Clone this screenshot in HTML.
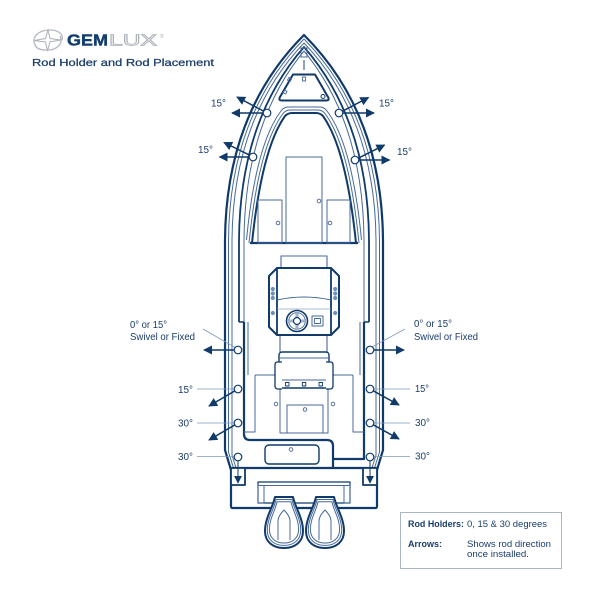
<!DOCTYPE html>
<html><head><meta charset="utf-8">
<style>
html,body{margin:0;padding:0;background:#fff;}
svg{display:block;}
text{font-family:"Liberation Sans",sans-serif;}
</style></head><body>
<svg width="600" height="600" viewBox="0 0 600 600" xmlns="http://www.w3.org/2000/svg">
<defs>
<marker id="ah" viewBox="0 0 10 10" refX="9" refY="5" markerWidth="9" markerHeight="9" markerUnits="userSpaceOnUse" orient="auto"><path d="M0,0 L10,5 L0,10 z" fill="#0f3a6a"/></marker>
<marker id="ah2" viewBox="0 0 10 10" refX="9" refY="5" markerWidth="8" markerHeight="8" markerUnits="userSpaceOnUse" orient="auto"><path d="M0,0 L10,5 L0,10 z" fill="#0f3a6a"/></marker>
</defs>
<rect width="600" height="600" fill="#fff"/>

<!-- Logo -->
<g fill="none" stroke="#b4bac3" stroke-width="1.3">
  <path d="M36,46 C30,38 38,30 50,30 C58,30 64,34 62,40"/>
  <path d="M60,36 C64,44 56,51 45,50 C40,50 36,48 35,45"/>
</g>
<path d="M48,30 L50,38.5 L61,40 L50,41.8 L47.5,51 L45.5,42 L34,40.5 L45.5,38.5 Z" fill="#fff" stroke="#aab1ba" stroke-width="1"/>
<text x="67" y="45.5" font-size="15.5" font-weight="bold" fill="#123d6e" stroke="#123d6e" stroke-width="0.4" textLength="41" lengthAdjust="spacingAndGlyphs">GEM</text>
<text x="109" y="45.5" font-size="15.5" fill="#fff" stroke="#a9b0b9" stroke-width="0.8" textLength="48" lengthAdjust="spacingAndGlyphs">LUX</text>
<text x="160" y="38" font-size="5" fill="#a9b0b9">®</text>
<text x="32" y="66" font-size="10" fill="#1b3d6b" stroke="#1b3d6b" stroke-width="0.25" textLength="182" lengthAdjust="spacingAndGlyphs">Rod Holder and Rod Placement</text>

<!-- Hull lines -->
<g fill="none" stroke-linejoin="round">
  <path d="M231,470 L225,450 L225,240 C226,120 280,59 304,35 C328,59 382,120 383,240 L383,450 L377,470" stroke="#0f3a6a" stroke-width="2.2"/>
  <path d="M233.5,468 L228.5,452 L228.5,240 C229.5,122.3 281.1,62.5 304,39 C326.9,62.5 378.5,122.3 379.5,240 L379.5,452 L374.5,468" stroke="#47699a" stroke-width="1"/>
  <path d="M236,468 L232,455 L232,240 C232.9,124.7 282.1,66.1 304,43 C325.9,66.1 375.1,124.7 376,240 L376,455 L372,468" stroke="#47699a" stroke-width="1"/>
  <path d="M239,322 L239,240 C239.8,127 284.3,69.6 304,47 C323.7,69.6 368.2,127 369,240 L369,322" stroke="#0f3a6a" stroke-width="1.8"/>
  <path d="M244,322 L244,240 C244.8,129.4 285.8,73.1 304,51 C322.2,73.1 363.2,129.4 364,240 L364,322" stroke="#47699a" stroke-width="1"/>
  <path d="M239,322 L244,322 M364,322 L369,322" stroke="#0f3a6a" stroke-width="1.5"/>

  <!-- inner forward deck arch -->
  <path d="M246.5,240 C252,183 262,136 281,111 Q284,107 288,107 L320,107 Q324,107 327,111 C346,136 356,183 361.5,240" stroke="#47699a" stroke-width="1"/>
  <path d="M249,243 C255,184 265,138 283,113.5 Q286,110 290,110 L318,110 Q322,110 325,113.5 C343,138 353,184 359,243" stroke="#47699a" stroke-width="1"/>
  <path d="M252,243 C258,185 268,140 285,116 Q288,113 292,113 L316,113 Q320,113 323,116 C340,140 350,185 356,243" stroke="#0f3a6a" stroke-width="2"/>
  <path d="M250,243 L358,243" stroke="#0f3a6a" stroke-width="2.2"/>

  <!-- anchor locker & hatch -->
  <rect x="301" y="48" width="6" height="9" stroke="#47699a" stroke-width="1"/>
  <path d="M304,60 L304,70" stroke="#47699a" stroke-width="1.2"/>
  <path d="M293,74.5 L315,74.5 L328,97 Q330,100.5 326,100.5 L282,100.5 Q278,100.5 280,97 Z" stroke="#0f3a6a" stroke-width="2"/>
  <rect x="302.5" y="77" width="3" height="4" stroke="#47699a" stroke-width="0.9"/>
  <rect x="288" y="78" width="3" height="3" stroke="#47699a" stroke-width="0.9" transform="rotate(30 289.5 79.5)"/>
  <rect x="283.5" y="90.5" width="3" height="3" stroke="#47699a" stroke-width="0.9" transform="rotate(30 285 92)"/>
  <circle cx="323" cy="96.5" r="2" stroke="#0f3a6a" stroke-width="1"/>

  <!-- forward compartments -->
  <rect x="286" y="157" width="36" height="86" stroke="#47699a" stroke-width="1"/>
  <rect x="258" y="200" width="24" height="43" stroke="#47699a" stroke-width="1"/>
  <rect x="327" y="200" width="23" height="43" stroke="#47699a" stroke-width="1"/>
  <circle cx="319" cy="201" r="1.8" stroke="#47699a" stroke-width="0.9"/>
  <circle cx="278" cy="223" r="1.8" stroke="#47699a" stroke-width="0.9"/>
  <circle cx="330" cy="223" r="1.8" stroke="#47699a" stroke-width="0.9"/>

  <!-- cockpit walls -->
  <path d="M244,322 L244,434 Q244,440 250,440 L327,440 Q333,440 333,446 L333,468" stroke="#0f3a6a" stroke-width="2.2"/>
  <path d="M364,322 L364,459 L333,459" stroke="#0f3a6a" stroke-width="2.2"/>
  <path d="M248,322 L248,375 M360,322 L360,375" stroke="#47699a" stroke-width="1"/>

  <!-- aft cockpit -->
  <path d="M255,375 L353,375" stroke="#47699a" stroke-width="1"/>
  <path d="M244,432 L255,432 L255,375 M364,432 L353,432 L353,375" stroke="#47699a" stroke-width="1"/>
  <path d="M280,388 L280,433 L328,433 L328,388" stroke="#47699a" stroke-width="1"/>
  <rect x="287" y="405" width="36" height="28" stroke="#47699a" stroke-width="1"/>
  <circle cx="305" cy="409.5" r="1.8" stroke="#47699a" stroke-width="0.9"/>
  <circle cx="276" cy="404" r="1.8" stroke="#47699a" stroke-width="0.9"/>
  <circle cx="333" cy="404" r="1.8" stroke="#47699a" stroke-width="0.9"/>
  <rect x="265" y="445" width="54" height="19" rx="4" stroke="#0f3a6a" stroke-width="1.4"/>
  <circle cx="291" cy="449.5" r="1.8" stroke="#47699a" stroke-width="0.9"/>
</g>

<!-- Console -->
<g stroke-linejoin="round">
  <rect x="281" y="256" width="46" height="13" fill="#fff" stroke="#47699a" stroke-width="1.1"/>
  <path d="M280,335 L280,352 M327,335 L327,352" stroke="#47699a" stroke-width="1.1" fill="none"/>
  <path d="M277,268 L331,268 L339,276 L339,327 L331,335 L277,335 L269,327 L269,276 Z" fill="#fff" stroke="#0f3a6a" stroke-width="2"/>
  <path d="M277,268 L277,335 M331,268 L331,335" stroke="#0f3a6a" stroke-width="1.8" fill="none"/>
  <path d="M277,300 Q304,294 331,300" stroke="#47699a" stroke-width="1.1" fill="none"/>
  <path d="M277,309 L331,309" stroke="#8ea6c6" stroke-width="0.8" fill="none"/>
  <g fill="#6f8fbb">
    <circle cx="272.8" cy="289" r="2.1"/><circle cx="272.8" cy="293.5" r="2.1"/><circle cx="272.8" cy="298" r="2.1"/><circle cx="272.8" cy="313" r="2.1"/>
    <circle cx="335.2" cy="289" r="2.1"/><circle cx="335.2" cy="293.5" r="2.1"/><circle cx="335.2" cy="298" r="2.1"/><circle cx="335.2" cy="313" r="2.1"/>
  </g>
  <circle cx="297" cy="321" r="10.5" fill="#fff" stroke="#0f3a6a" stroke-width="1.6"/>
  <circle cx="297" cy="321" r="8.3" fill="none" stroke="#47699a" stroke-width="0.9"/>
  <path d="M297,312.7 L297,329.3 M288.7,321 L305.3,321" stroke="#47699a" stroke-width="2.6"/>
  <path d="M297,312.7 L297,329.3 M288.7,321 L305.3,321" stroke="#fff" stroke-width="1"/>
  <circle cx="297" cy="321" r="3.5" fill="#fff" stroke="#0f3a6a" stroke-width="1.2"/>
  <rect x="312" y="316" width="11" height="10" fill="#fff" stroke="#47699a" stroke-width="1"/>
  <rect x="314.5" y="318.5" width="6" height="5" fill="none" stroke="#47699a" stroke-width="0.9"/>

  <!-- seat -->
  <rect x="279" y="352" width="50" height="36" rx="3" fill="#fff" stroke="#0f3a6a" stroke-width="1.4"/>
  <path d="M279,358 L329,358 M281,380 L327,380" stroke="#47699a" stroke-width="1" fill="none"/>
  <path d="M282,362 L277.5,362 Q275,362 275,365 L275,386 Q275,389 278,389 L282,389" fill="#fff" stroke="#0f3a6a" stroke-width="1.3"/>
  <path d="M326,362 L330.5,362 Q333,362 333,365 L333,386 Q333,389 330,389 L326,389" fill="#fff" stroke="#0f3a6a" stroke-width="1.3"/>
  <g fill="none" stroke="#0f3a6a" stroke-width="0.9">
    <rect x="285.5" y="382.5" width="3.5" height="3.5"/><rect x="302.3" y="382.5" width="3.5" height="3.5"/><rect x="319" y="382.5" width="3.5" height="3.5"/>
  </g>
</g>

<!-- Transom / stern -->
<g stroke-linejoin="round">
  <rect x="231" y="468" width="146" height="40" rx="1.5" fill="#fff" stroke="#0f3a6a" stroke-width="2.2"/>
  <rect x="231" y="468" width="14" height="17" fill="#fff" stroke="#0f3a6a" stroke-width="1.8"/>
  <rect x="363" y="468" width="14" height="17" fill="#fff" stroke="#0f3a6a" stroke-width="1.8"/>
  <rect x="258" y="482" width="92" height="21" fill="#fff" stroke="#0f3a6a" stroke-width="1.2"/>
  <path d="M258,485.5 L350,485.5" stroke="#47699a" stroke-width="1"/>
  <rect x="258" y="485.5" width="6" height="17.5" fill="none" stroke="#47699a" stroke-width="1"/>
  <rect x="344" y="485.5" width="6" height="17.5" fill="none" stroke="#47699a" stroke-width="1"/>
</g>

<!-- Engines -->
<g stroke-linejoin="round">
  <path d="M275,497 L293,497 C295,507 303,518 303,531 C303,542 295,548 284,548 C273,548 265,542 265,531 C265,518 273,507 275,497 Z" fill="#fff" stroke="#0f3a6a" stroke-width="2"/>
  <path d="M275,497 L293,497 C295,507 303,518 303,531 C303,542 295,548 284,548 C273,548 265,542 265,531 C265,518 273,507 275,497 Z" fill="none" stroke="#47699a" stroke-width="1" vector-effect="non-scaling-stroke" transform="translate(284,522) scale(0.88,0.9) translate(-284,-522)"/>
  <path d="M275,497 L293,497 C295,507 303,518 303,531 C303,542 295,548 284,548 C273,548 265,542 265,531 C265,518 273,507 275,497 Z" fill="none" stroke="#47699a" stroke-width="1" vector-effect="non-scaling-stroke" transform="translate(284,522) scale(0.77,0.81) translate(-284,-522)"/>
  <path d="M278,540 L278,521 Q278,516 284,510 Q290,516 290,521 L290,540" fill="none" stroke="#47699a" stroke-width="1"/>

  <path d="M316,497 L334,497 C336,507 344,518 344,531 C344,542 336,548 325,548 C314,548 306,542 306,531 C306,518 314,507 316,497 Z" fill="#fff" stroke="#0f3a6a" stroke-width="2"/>
  <path d="M316,497 L334,497 C336,507 344,518 344,531 C344,542 336,548 325,548 C314,548 306,542 306,531 C306,518 314,507 316,497 Z" fill="none" stroke="#47699a" stroke-width="1" vector-effect="non-scaling-stroke" transform="translate(325,522) scale(0.88,0.9) translate(-325,-522)"/>
  <path d="M316,497 L334,497 C336,507 344,518 344,531 C344,542 336,548 325,548 C314,548 306,542 306,531 C306,518 314,507 316,497 Z" fill="none" stroke="#47699a" stroke-width="1" vector-effect="non-scaling-stroke" transform="translate(325,522) scale(0.77,0.81) translate(-325,-522)"/>
  <path d="M319,540 L319,521 Q319,516 325,510 Q331,516 331,521 L331,540" fill="none" stroke="#47699a" stroke-width="1"/>
</g>

<!-- Leader lines -->
<g stroke="#7f9ac0" stroke-width="0.8" fill="none">
  <path d="M203,329 L236,348"/>
  <path d="M197,389 L234,389 M197,423 L234,423 M197,456.5 L234,456.5"/>
  <path d="M372,347 L405,329"/>
  <path d="M374,389 L410,389 M374,423 L410,423 M374,456.5 L410,456.5"/>
</g>

<!-- Arrows -->
<g stroke="#0f3a6a" stroke-width="1.5" fill="none">
  <path d="M263.5,113 L232,113" marker-end="url(#ah)"/>
  <path d="M264,111.4 L237,97" marker-end="url(#ah)"/>
  <path d="M249.5,157 L219.5,157" marker-end="url(#ah)"/>
  <path d="M250,155.3 L224,142.5" marker-end="url(#ah)"/>
  <path d="M342.5,113 L374,113" marker-end="url(#ah)"/>
  <path d="M342,111.4 L368.5,97.5" marker-end="url(#ah)"/>
  <path d="M358.5,160 L389.5,160" marker-end="url(#ah)"/>
  <path d="M358,158.3 L384.5,145" marker-end="url(#ah)"/>

  <path d="M234.5,350 L204,350" marker-end="url(#ah)"/>
  <path d="M235,390.8 L209,406" marker-end="url(#ah)"/>
  <path d="M235,424.8 L209,440" marker-end="url(#ah)"/>
  <path d="M373.5,350 L404,350" marker-end="url(#ah)"/>
  <path d="M373,390.7 L399,405" marker-end="url(#ah)"/>
  <path d="M373,424.7 L399,439" marker-end="url(#ah)"/>
  <path d="M238,460.5 L238,483" stroke-width="1" marker-end="url(#ah2)"/>
  <path d="M370,460.5 L370,483" stroke-width="1" marker-end="url(#ah2)"/>
</g>

<!-- Rod holders -->
<g fill="#fff" stroke="#0f3a6a" stroke-width="1.2">
  <circle cx="267" cy="113" r="3.8"/>
  <circle cx="253" cy="157" r="3.8"/>
  <circle cx="339" cy="113" r="3.8"/>
  <circle cx="355" cy="160" r="3.8"/>
  <circle cx="238" cy="350" r="3.8"/>
  <circle cx="238" cy="389" r="3.8"/>
  <circle cx="238" cy="423" r="3.8"/>
  <circle cx="238" cy="457" r="3.8"/>
  <circle cx="370" cy="350" r="3.8"/>
  <circle cx="370" cy="389" r="3.8"/>
  <circle cx="370" cy="423" r="3.8"/>
  <circle cx="370" cy="457" r="3.8"/>
</g>

<!-- Labels -->
<g font-size="10" fill="#1b3d6b">
  <text x="211" y="106.5" textLength="15" lengthAdjust="spacingAndGlyphs">15°</text>
  <text x="379" y="106.5" textLength="15" lengthAdjust="spacingAndGlyphs">15°</text>
  <text x="198" y="153" textLength="15" lengthAdjust="spacingAndGlyphs">15°</text>
  <text x="397" y="155" textLength="15" lengthAdjust="spacingAndGlyphs">15°</text>

  <text x="130" y="328" textLength="37" lengthAdjust="spacingAndGlyphs">0° or 15°</text>
  <text x="130" y="340" textLength="65" lengthAdjust="spacingAndGlyphs">Swivel or Fixed</text>
  <text x="178" y="393" textLength="15" lengthAdjust="spacingAndGlyphs">15°</text>
  <text x="178" y="426.5" textLength="15" lengthAdjust="spacingAndGlyphs">30°</text>
  <text x="178" y="460" textLength="15" lengthAdjust="spacingAndGlyphs">30°</text>

  <text x="414" y="327" textLength="38" lengthAdjust="spacingAndGlyphs">0° or 15°</text>
  <text x="414" y="340" textLength="64" lengthAdjust="spacingAndGlyphs">Swivel or Fixed</text>
  <text x="415" y="392" textLength="14" lengthAdjust="spacingAndGlyphs">15°</text>
  <text x="415" y="426" textLength="15" lengthAdjust="spacingAndGlyphs">30°</text>
  <text x="415" y="459.5" textLength="15" lengthAdjust="spacingAndGlyphs">30°</text>
</g>

<!-- Legend -->
<rect x="400.5" y="512.5" width="161" height="56" fill="#fff" stroke="#a9b4c4" stroke-width="1"/>
<g font-size="9" fill="#1b3d6b">
  <text x="408" y="527" font-weight="bold" textLength="56" lengthAdjust="spacingAndGlyphs">Rod Holders:</text>
  <text x="467" y="527" textLength="80" lengthAdjust="spacingAndGlyphs">0, 15 &amp; 30 degrees</text>
  <text x="408" y="547" font-weight="bold" textLength="34" lengthAdjust="spacingAndGlyphs">Arrows:</text>
  <text x="467" y="547" textLength="84" lengthAdjust="spacingAndGlyphs">Shows rod direction</text>
  <text x="467" y="557" textLength="62" lengthAdjust="spacingAndGlyphs">once installed.</text>
</g>
</svg>
</body></html>
